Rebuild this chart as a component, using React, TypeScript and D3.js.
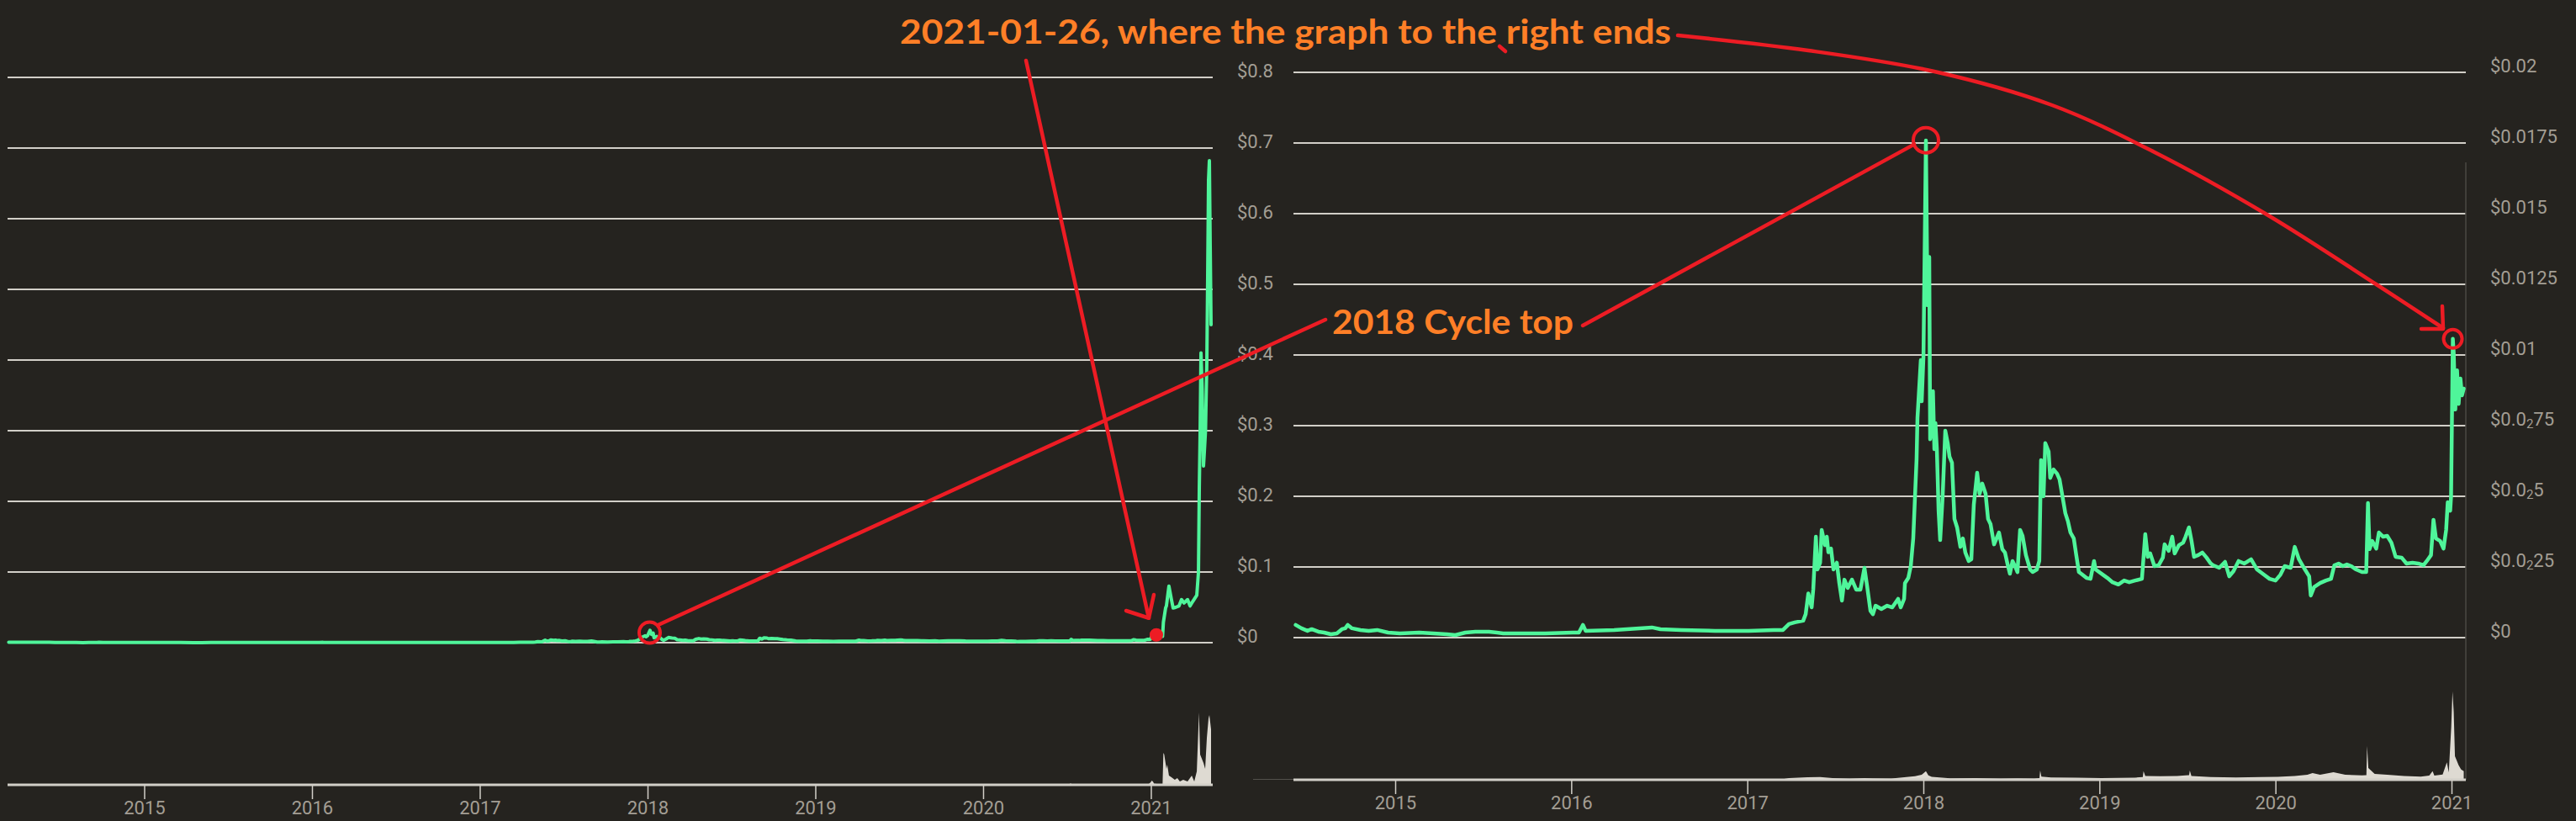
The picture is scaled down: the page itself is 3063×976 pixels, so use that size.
import React from 'react';
import * as d3 from 'd3';

// ---------- DATA (decimal year, value) ----------
// price in USD
const priceEarly2014: [number, number][] = [
  [2014.19, 0.0006], [2014.28, 0.0005], [2014.36, 0.00045], [2014.42, 0.0005],
];
const price2014to2016: [number, number][] = [
  [2014.432, 0.00045], [2014.465, 0.00033], [2014.499, 0.00024], [2014.523, 0.0003], [2014.561, 0.00021],
  [2014.594, 0.00018], [2014.632, 0.00012], [2014.666, 0.00015], [2014.695, 0.0003], [2014.714, 0.00033],
  [2014.728, 0.00045], [2014.752, 0.00033], [2014.8, 0.00027], [2014.847, 0.00024], [2014.895, 0.00027],
  [2014.957, 0.00018], [2015.024, 0.00015], [2015.134, 0.00018], [2015.215, 0.00015], [2015.291, 0.00012],
  [2015.339, 0.00009], [2015.396, 0.00018], [2015.453, 0.00021], [2015.53, 0.00021], [2015.611, 0.00015],
  [2015.692, 0.00015], [2015.85, 0.00015], [2016.007, 0.00018], [2016.041, 0.00018], [2016.064, 0.00045],
  [2016.079, 0.00024], [2016.241, 0.00027], [2016.456, 0.00036], [2016.504, 0.0003], [2016.623, 0.00027],
  [2016.814, 0.00024], [2017.005, 0.00024], [2017.148, 0.00027], [2017.2, 0.00027],
];
const price2017: [number, number][] = [
  [2017.234, 0.00048], [2017.267, 0.00054], [2017.315, 0.0006], [2017.329, 0.00083], [2017.344, 0.00156],
  [2017.363, 0.00107], [2017.372, 0.0017], [2017.387, 0.00357], [2017.396, 0.00241], [2017.411, 0.00265],
  [2017.42, 0.00381], [2017.439, 0.00327], [2017.449, 0.00357], [2017.458, 0.00302], [2017.473, 0.00315],
  [2017.487, 0.00241], [2017.506, 0.00265], [2017.52, 0.00193], [2017.535, 0.00131], [2017.549, 0.00205],
  [2017.568, 0.00176], [2017.592, 0.00205], [2017.616, 0.0017], [2017.64, 0.0017], [2017.663, 0.00247],
  [2017.678, 0.00182], [2017.697, 0.00095], [2017.711, 0.00083], [2017.726, 0.00113], [2017.759, 0.00101],
  [2017.792, 0.00113], [2017.821, 0.00107], [2017.854, 0.00137], [2017.869, 0.00107], [2017.888, 0.00137],
  [2017.893, 0.00193], [2017.912, 0.00211], [2017.926, 0.00253], [2017.94, 0.00351], [2017.959, 0.00631],
  [2017.964, 0.00777], [2017.983, 0.00982], [2017.988, 0.00836], [2017.998, 0.00994],
];
const price2018: [number, number][] = [
  [2018.012, 0.01759], [2018.021, 0.01176], [2018.031, 0.01347], [2018.036, 0.00702], [2018.046, 0.00759],
  [2018.052, 0.00872], [2018.06, 0.00667], [2018.066, 0.00759], [2018.074, 0.0067], [2018.084, 0.00449],
  [2018.093, 0.00345], [2018.107, 0.005], [2018.122, 0.00732], [2018.136, 0.00688], [2018.146, 0.0064],
  [2018.16, 0.00619], [2018.174, 0.0042], [2018.189, 0.0039], [2018.208, 0.00321], [2018.222, 0.00351],
  [2018.236, 0.00301], [2018.255, 0.00271], [2018.27, 0.00277], [2018.284, 0.0047], [2018.303, 0.00583],
  [2018.317, 0.00509], [2018.332, 0.00545], [2018.351, 0.00509], [2018.365, 0.0042], [2018.379, 0.00402],
  [2018.399, 0.0033], [2018.413, 0.00351], [2018.427, 0.00372], [2018.446, 0.00313], [2018.461, 0.00301],
  [2018.475, 0.00262], [2018.489, 0.00226], [2018.504, 0.00271], [2018.518, 0.00253], [2018.532, 0.00232],
  [2018.547, 0.00381], [2018.561, 0.0036], [2018.58, 0.00292], [2018.604, 0.00241], [2018.618, 0.00232],
  [2018.642, 0.00241], [2018.656, 0.00271], [2018.666, 0.00628], [2018.68, 0.005], [2018.69, 0.00688],
  [2018.709, 0.00658], [2018.718, 0.00565], [2018.737, 0.00595], [2018.757, 0.0058], [2018.771, 0.0056],
  [2018.785, 0.00509], [2018.804, 0.0044], [2018.819, 0.00411], [2018.833, 0.00372], [2018.852, 0.00351],
  [2018.866, 0.00292], [2018.881, 0.00232], [2018.9, 0.00223], [2018.924, 0.00211], [2018.947, 0.00208],
  [2018.967, 0.00271], [2018.976, 0.00241],
];
const price2019: [number, number][] = [
  [2019.01, 0.00226], [2019.043, 0.00211], [2019.072, 0.00196], [2019.105, 0.00188], [2019.138, 0.00202],
  [2019.167, 0.00196], [2019.2, 0.00202], [2019.239, 0.00208], [2019.258, 0.00366], [2019.272, 0.00286],
  [2019.286, 0.00298], [2019.31, 0.00253], [2019.334, 0.00256], [2019.358, 0.00283], [2019.368, 0.0033],
  [2019.391, 0.00307], [2019.411, 0.00357], [2019.425, 0.00298], [2019.449, 0.00327], [2019.473, 0.00336],
  [2019.487, 0.00357], [2019.506, 0.0039], [2019.52, 0.00345], [2019.535, 0.00286], [2019.559, 0.00292],
  [2019.582, 0.00301], [2019.606, 0.00283], [2019.63, 0.00262], [2019.644, 0.00256], [2019.678, 0.00247],
  [2019.711, 0.00268], [2019.735, 0.00217], [2019.759, 0.00235], [2019.788, 0.00271], [2019.821, 0.00262],
  [2019.859, 0.00277], [2019.893, 0.00241], [2019.931, 0.00223], [2019.964, 0.00208], [2019.998, 0.00202],
];
const price2020: [number, number][] = [
  [2020.026, 0.00223], [2020.05, 0.00253], [2020.084, 0.00247], [2020.107, 0.00321], [2020.131, 0.00277],
  [2020.165, 0.00241], [2020.189, 0.00217], [2020.198, 0.00149], [2020.217, 0.00179], [2020.251, 0.00193],
  [2020.284, 0.00202], [2020.313, 0.00208], [2020.332, 0.00256], [2020.356, 0.00262], [2020.38, 0.00253],
  [2020.403, 0.00259], [2020.427, 0.00253], [2020.456, 0.00241], [2020.489, 0.00232], [2020.513, 0.00232],
  [2020.523, 0.00476], [2020.532, 0.00313], [2020.547, 0.00342], [2020.57, 0.00315], [2020.585, 0.00372],
  [2020.609, 0.00357], [2020.632, 0.0036], [2020.656, 0.00336], [2020.68, 0.00286], [2020.714, 0.00283],
  [2020.742, 0.00262], [2020.776, 0.00265], [2020.809, 0.00262], [2020.838, 0.00256], [2020.857, 0.00271],
  [2020.881, 0.00292], [2020.895, 0.00417], [2020.909, 0.00351], [2020.933, 0.00342], [2020.952, 0.00315],
  [2020.967, 0.00381], [2020.976, 0.00479], [2020.99, 0.00449], [2020.995, 0.005],
];
const priceJan2021: [number, number][] = [
  [2021.005, 0.01057], [2021.01, 0.01006], [2021.019, 0.00807], [2021.029, 0.00946], [2021.038, 0.00827],
  [2021.048, 0.00917], [2021.057, 0.00857], [2021.067, 0.00881],
];
const priceFebMay2021: [number, number][] = [
  [2021.072, 0.029], [2021.085, 0.049], [2021.09, 0.052], [2021.105, 0.08], [2021.12, 0.061],
  [2021.13, 0.049], [2021.145, 0.05], [2021.165, 0.052], [2021.18, 0.061], [2021.195, 0.056],
  [2021.216, 0.061], [2021.231, 0.052], [2021.246, 0.058], [2021.271, 0.067], [2021.281, 0.1],
  [2021.286, 0.22], [2021.291, 0.3], [2021.296, 0.41], [2021.303, 0.36], [2021.311, 0.25],
  [2021.316, 0.27], [2021.323, 0.3], [2021.331, 0.4], [2021.336, 0.52], [2021.341, 0.655],
  [2021.346, 0.682], [2021.351, 0.56], [2021.356, 0.45],
];

// volume in million USD
const volume2014to2017: [number, number][] = [
  [2014.19, 10], [2014.432, 8], [2014.7, 7], [2015.0, 6], [2015.5, 5], [2016.0, 5], [2016.5, 6], [2017.0, 6],
  [2017.2, 20], [2017.234, 60], [2017.339, 85], [2017.411, 90], [2017.482, 60], [2017.578, 40], [2017.663, 60],
  [2017.711, 50], [2017.816, 45], [2017.95, 120], [2017.988, 170],
];
const volume2018: [number, number][] = [
  [2018.012, 290], [2018.026, 150], [2018.045, 100], [2018.15, 50], [2018.294, 60], [2018.437, 45],
  [2018.532, 50], [2018.628, 40], [2018.657, 60], [2018.661, 315], [2018.668, 110], [2018.723, 80], [2018.866, 70],
];
const volume2019: [number, number][] = [
  [2019.01, 60], [2019.2, 75], [2019.244, 90], [2019.248, 290], [2019.258, 130], [2019.344, 120],
  [2019.439, 130], [2019.487, 150], [2019.507, 160], [2019.511, 315], [2019.52, 130], [2019.63, 90],
  [2019.773, 80], [2019.916, 90],
];
const volume2020: [number, number][] = [
  [2020.011, 100], [2020.107, 130], [2020.179, 170], [2020.208, 230], [2020.251, 170], [2020.327, 260],
  [2020.394, 170], [2020.489, 150], [2020.514, 160], [2020.518, 1150], [2020.525, 400], [2020.561, 200],
  [2020.632, 170], [2020.728, 130], [2020.823, 110], [2020.871, 140], [2020.89, 290], [2020.9, 140],
  [2020.947, 180], [2020.971, 590], [2020.982, 250], [2020.996, 1800],
];
const volumeJan2021: [number, number][] = [
  [2021.003, 3000], [2021.01, 2300], [2021.017, 800], [2021.024, 700], [2021.038, 490], [2021.052, 350], [2021.067, 290],
];
const volumeFebMay2021: [number, number][] = [
  [2021.072, 22800], [2021.077, 21600], [2021.09, 11400], [2021.095, 14400], [2021.105, 6600], [2021.12, 5400],
  [2021.14, 3600], [2021.155, 4800], [2021.17, 2400], [2021.19, 3600], [2021.216, 2400], [2021.241, 6600],
  [2021.256, 2400], [2021.271, 9600], [2021.284, 51600], [2021.291, 21600], [2021.311, 15600], [2021.321, 11400],
  [2021.331, 33600], [2021.341, 47400], [2021.346, 49800], [2021.356, 39600],
];

const yearTicks = [2015, 2016, 2017, 2018, 2019, 2020, 2021];
const leftTickValues = [0, 0.1, 0.2, 0.3, 0.4, 0.5, 0.6, 0.7, 0.8];
const leftTickLabels = ['$0', '$0.1', '$0.2', '$0.3', '$0.4', '$0.5', '$0.6', '$0.7', '$0.8'];
const rightTickValues = [0, 0.0025, 0.005, 0.0075, 0.01, 0.0125, 0.015, 0.0175, 0.02];
const rightTickLabels = ['$0', '$0.0₂25', '$0.0₂5', '$0.0₂75', '$0.01', '$0.0125', '$0.015', '$0.0175', '$0.02'];

const titleText = '2021-01-26, where the graph to the right ends';
const cycleText = '2018 Cycle top';
const peak2018: [number, number] = [2018.012, 0.0176];
const endJan2021: [number, number] = [2021.005, 0.01057];
const leftPeakMark: [number, number] = [2018.01, 0.0143];
const leftDotMark: [number, number] = [2021.03, 0.011];

// ---------- STYLE ----------
const BG = '#25231f';
const GRID = '#d2cfc8';
const LABEL = '#a39e94';
const GREEN = '#4ff59a';
const VOL = '#dedad2';
const RED = '#ed1c24';
const ORANGE = '#ff7f27';

const yearToDate = (t: number) => new Date(Date.UTC(2015, 0, 1) + (t - 2015) * 365.25 * 86400000);

const mainPrice = [...price2014to2016, ...price2017, ...price2018, ...price2019, ...price2020, ...priceJan2021];
const leftPrice = [...priceEarly2014, ...mainPrice, ...priceFebMay2021];
const mainVolume = [...volume2014to2017, ...volume2018, ...volume2019, ...volume2020, ...volumeJan2021];
const leftVolume = [...mainVolume, ...volumeFebMay2021];

type Cfg = {
  x: d3.ScaleTime<number, number>;
  y: d3.ScaleLinear<number, number>;
  v: d3.ScaleLinear<number, number>;
  x0: number; x1: number; base: number;
  labelX: number;
  ticks: number[]; labels: string[];
  price: [number, number][]; volume: [number, number][];
  lineWidth: number;
  axisLine?: boolean;
};

function renderLabel(s: string) {
  const i = s.indexOf('₂');
  if (i < 0) return s;
  return [
    <tspan key="a">{s.slice(0, i)}</tspan>,
    <tspan key="b" fontSize={15} dy={6}>2</tspan>,
    <tspan key="c" dy={-6}>{s.slice(i + 1)}</tspan>,
  ];
}

function Chart({ c }: { c: Cfg }) {
  const line = d3.line<[number, number]>().x(d => c.x(yearToDate(d[0]))).y(d => c.y(d[1]));
  const area = d3.area<[number, number]>().x(d => c.x(yearToDate(d[0]))).y0(c.base).y1(d => c.v(d[1]));
  return (
    <g>
      {c.ticks.map((t, i) => (
        <g key={'g' + i}>
          <line x1={c.x0} x2={c.x1} y1={c.y(t)} y2={c.y(t)} stroke={GRID} strokeWidth={2} />
          <text x={c.labelX} y={c.y(t) - 8} fill={LABEL} fontSize={22} fontFamily="Roboto, sans-serif" dominantBaseline="central">
            {renderLabel(c.labels[i])}
          </text>
        </g>
      ))}
      {c.axisLine && <line x1={c.x1} x2={c.x1} y1={193} y2={c.base} stroke="#4a4843" strokeWidth={1.5} />}
      <path d={area(c.volume) || ''} fill={VOL} />
      <line x1={c.x0} x2={c.x1} y1={c.base} y2={c.base} stroke={GRID} strokeWidth={3} />
      {yearTicks.map(yr => {
        const xx = c.x(yearToDate(yr));
        return (
          <g key={'t' + yr}>
            <line x1={xx} x2={xx} y1={c.base} y2={c.base + 17} stroke={GRID} strokeWidth={1.5} />
            <text x={xx} y={c.base + 27} fill={LABEL} fontSize={22} fontFamily="Roboto, sans-serif" textAnchor="middle" dominantBaseline="central">
              {yr}
            </text>
          </g>
        );
      })}
      <path d={line(c.price) || ''} fill="none" stroke={GREEN} strokeWidth={c.lineWidth} strokeLinejoin="round" strokeLinecap="round" />
    </g>
  );
}

export default function App() {
  const left: Cfg = {
    x: d3.scaleTime().domain([yearToDate(2014.183), yearToDate(2021.366)]).range([9, 1442]),
    y: d3.scaleLinear().domain([0, 0.8]).range([764, 92]),
    v: d3.scaleLinear().domain([0, 60000]).range([933, 833]),
    x0: 9, x1: 1442, base: 933, labelX: 1471,
    ticks: leftTickValues, labels: leftTickLabels,
    price: leftPrice, volume: leftVolume, lineWidth: 4,
  };
  const right: Cfg = {
    x: d3.scaleTime().domain([yearToDate(2014.4196), yearToDate(2021.0788)]).range([1538, 2932]),
    y: d3.scaleLinear().domain([0, 0.02]).range([758, 86]),
    v: d3.scaleLinear().domain([0, 3000]).range([927, 822]),
    x0: 1538, x1: 2932, base: 927, labelX: 2961,
    ticks: rightTickValues, labels: rightTickLabels,
    price: mainPrice, volume: mainVolume, lineWidth: 4.5, axisLine: true,
  };

  const lp = [left.x(yearToDate(leftPeakMark[0])), left.y(leftPeakMark[1])];
  const ld = [left.x(yearToDate(leftDotMark[0])), left.y(leftDotMark[1])];
  const rp = [right.x(yearToDate(peak2018[0])), right.y(peak2018[1])];
  const re = [right.x(yearToDate(endJan2021[0])), right.y(endJan2021[1])];

  const curvePts: [number, number][] = [
    [1995, 42], [2150, 60], [2300, 85], [2440, 125], [2560, 180], [2697, 256], [2827, 339], [2905, 390],
  ];
  const curve = d3.line().curve(d3.curveCatmullRom.alpha(0.5))(curvePts) || '';

  return (
    <svg width={3063} height={976} style={{ position: 'absolute', left: 0, top: 0, display: 'block' }}>
      <rect width={3063} height={976} fill={BG} />
      <Chart c={left} />
      <Chart c={right} />

      {/* annotations */}
      <g stroke={RED} strokeWidth={4.5} strokeLinecap="round" strokeLinejoin="round" fill="none">
        <line x1={1220} y1={72} x2={ld[0] - 9} y2={ld[1] - 20} />
        <polyline points={`1339,726 ${ld[0] - 9},${ld[1] - 20} 1372,707`} />
        <circle cx={lp[0]} cy={lp[1]} r={12.5} strokeWidth={4} />
        <line x1={lp[0] + 10} y1={lp[1] - 9} x2={1576} y2={380} />
        <line x1={1882} y1={387} x2={rp[0] - 14} y2={rp[1] + 5} />
        <circle cx={rp[0]} cy={rp[1]} r={15} strokeWidth={4} />
        <circle cx={re[0]} cy={re[1]} r={11} strokeWidth={4} />
        <path d={curve} />
        <polyline points="2879,391 2905,391 2904,364" />
        <line x1={1783} y1={55} x2={1790} y2={61} />
      </g>
      <circle cx={ld[0]} cy={ld[1]} r={8} fill={RED} />

      <text x={1070} y={52} fill={ORANGE} fontFamily="Lato, 'Open Sans', sans-serif" fontWeight={700} fontSize={40}
        textLength={917} lengthAdjust="spacingAndGlyphs">{titleText}</text>
      <text x={1584} y={397} fill={ORANGE} fontFamily="Lato, 'Open Sans', sans-serif" fontWeight={700} fontSize={41}
        textLength={287} lengthAdjust="spacingAndGlyphs">{cycleText}</text>
    </svg>
  );
}
